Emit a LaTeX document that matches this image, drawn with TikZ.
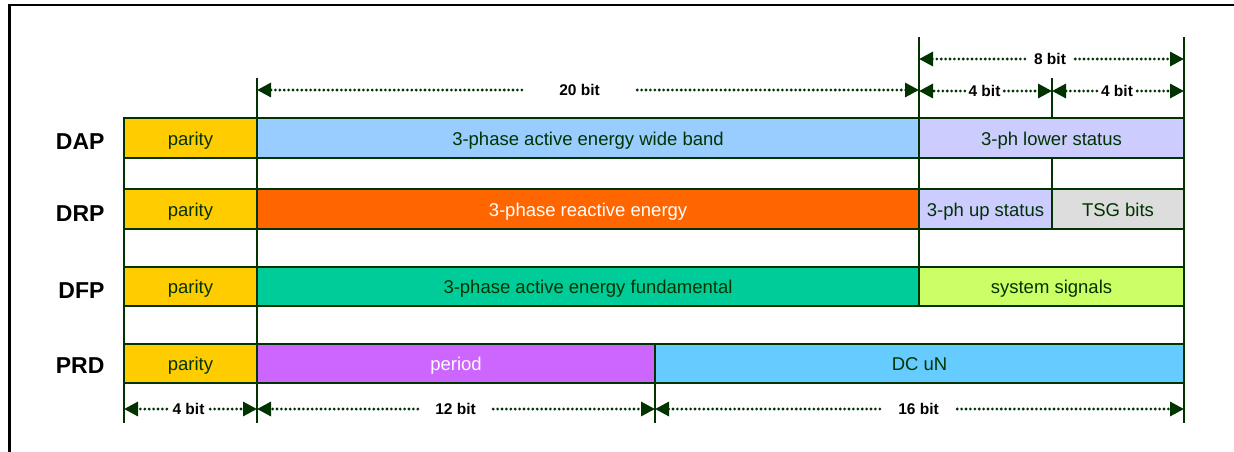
\documentclass[tikz,border=0pt]{standalone}
\usepackage{fontspec}
\setmainfont{Liberation Sans}
\usetikzlibrary{arrows.meta}
\definecolor{dkgreen}{HTML}{003300}
\definecolor{cparity}{HTML}{FFCC00}
\definecolor{cwide}{HTML}{99CCFF}
\definecolor{cstatus}{HTML}{CCCCFF}
\definecolor{creact}{HTML}{FF6600}
\definecolor{ctsg}{HTML}{DDDDDD}
\definecolor{cfund}{HTML}{00CC99}
\definecolor{csys}{HTML}{CCFF66}
\definecolor{cperiod}{HTML}{CC66FF}
\definecolor{cdc}{HTML}{66CCFF}
\tikzset{
  cell/.style={draw=dkgreen, line width=2pt, rectangle, inner sep=0pt, outer sep=0pt,
    text=dkgreen, font=\fontsize{18.5}{20}\selectfont, text height=14.5pt, text depth=0pt},
  blankcell/.style={cell, fill=white},
  rowlab/.style={anchor=east, font=\fontsize{23}{25}\bfseries, text=black},
  bitlab/.style={rectangle, inner sep=0pt, minimum height=14pt, font=\fontsize{15.5}{17}\bfseries, text=black},
  dimline/.style={draw=dkgreen, line width=3.1pt, line cap=round, dash pattern=on 0pt off 4.4pt,
    -{Triangle[length=14pt,width=14pt]}},
  extline/.style={draw=dkgreen, line width=2pt},
  frameline/.style={draw=black, line width=2.6pt}
}
\begin{document}
\begin{tikzpicture}[x=1pt,y=-1pt]
\useasboundingbox (0,0) rectangle (1234,451);
\draw[frameline] (9.5,452) -- (9.5,5) -- (1235,5);

% blank rows
\node[blankcell, minimum width=133pt, minimum height=31pt] (b1a) at (190.5,173.5) {};
\node[blankcell, minimum width=662pt, minimum height=31pt] (b1b) at (588,173.5) {};
\node[blankcell, minimum width=133pt, minimum height=31pt] (b1c) at (985.5,173.5) {};
\node[blankcell, minimum width=132pt, minimum height=31pt] (b1d) at (1118,173.5) {};
\node[blankcell, minimum width=133pt, minimum height=38pt] (b2a) at (190.5,248) {};
\node[blankcell, minimum width=662pt, minimum height=38pt] (b2b) at (588,248) {};
\node[blankcell, minimum width=265pt, minimum height=38pt] (b2c) at (1051.5,248) {};
\node[blankcell, minimum width=133pt, minimum height=38pt] (b3a) at (190.5,325) {};
\node[blankcell, minimum width=927pt, minimum height=38pt] (b3b) at (720.5,325) {};

% DAP
\node[cell, fill=cparity, minimum width=133pt, minimum height=40pt] (dap1) at (190.5,138) {parity};
\node[cell, fill=cwide, minimum width=662pt, minimum height=40pt] (dap2) at (588,138) {3-phase active energy wide band};
\node[cell, fill=cstatus, minimum width=265pt, minimum height=40pt] (dap3) at (1051.5,138) {3-ph lower status};
% DRP
\node[cell, fill=cparity, minimum width=133pt, minimum height=40pt] (drp1) at (190.5,209) {parity};
\node[cell, fill=creact, text=white, minimum width=662pt, minimum height=40pt] (drp2) at (588,209) {3-phase reactive energy};
\node[cell, fill=cstatus, minimum width=133pt, minimum height=40pt] (drp3) at (985.5,209) {3-ph up status};
\node[cell, fill=ctsg, minimum width=132pt, minimum height=40pt] (drp4) at (1118,209) {TSG bits};
% DFP
\node[cell, fill=cparity, minimum width=133pt, minimum height=39pt] (dfp1) at (190.5,286.5) {parity};
\node[cell, fill=cfund, minimum width=662pt, minimum height=39pt] (dfp2) at (588,286.5) {3-phase active energy fundamental};
\node[cell, fill=csys, minimum width=265pt, minimum height=39pt] (dfp3) at (1051.5,286.5) {system signals};
% PRD
\node[cell, fill=cparity, minimum width=133pt, minimum height=39pt] (prd1) at (190.5,363.5) {parity};
\node[cell, fill=cperiod, text=white, minimum width=398pt, minimum height=39pt] (prd2) at (456,363.5) {period};
\node[cell, fill=cdc, minimum width=529pt, minimum height=39pt] (prd3) at (919.5,363.5) {DC uN};

% row labels
\node[rowlab] (ldap) at (108,141.5) {DAP};
\node[rowlab] (ldrp) at (108,214) {DRP};
\node[rowlab] (ldfp) at (108,290.5) {DFP};
\node[rowlab] (lprd) at (108,366) {PRD};

% extension lines top
\draw[extline] (dap2.north west) -- ++(0,-40);
\draw[extline] (dap3.north west) -- ++(0,-81);
\draw[extline] (dap3.north east) -- ++(0,-81);
\draw[extline] (dap3.north) ++(0.5,0) -- ++(0,-40);
% extension lines bottom
\draw[extline] (prd1.south west) -- ++(0,40);
\draw[extline] (prd2.south west) -- ++(0,40);
\draw[extline] (prd3.south west) -- ++(0,40);
\draw[extline] (prd3.south east) -- ++(0,40);

% dimension end points
\coordinate (t20a) at (257,90);
\coordinate (t20b) at (919,90);
\coordinate (t8a) at (919,59);
\coordinate (t8b) at (1184,59);
\coordinate (t4a) at (919,91);
\coordinate (t4b) at (1052,91);
\coordinate (t4c) at (1052,91);
\coordinate (t4d) at (1184,91);
\coordinate (b4a) at (124,409);
\coordinate (b4b) at (257,409);
\coordinate (b12a) at (257,409);
\coordinate (b12b) at (655,409);
\coordinate (b16a) at (655,409);
\coordinate (b16b) at (1184,409);

% dimension labels
\node[bitlab, minimum width=115pt] (l20) at (579.5,90) {20 bit};
\node[bitlab, minimum width=50pt] (l8) at (1050,59) {8 bit};
\node[bitlab, minimum width=39pt] (l4a) at (984.5,91) {4 bit};
\node[bitlab, minimum width=40pt] (l4b) at (1117,91) {4 bit};
\node[bitlab, minimum width=43pt] (lb4) at (188.5,409) {4 bit};
\node[bitlab, minimum width=75pt] (lb12) at (455.5,409) {12 bit};
\node[bitlab, minimum width=77pt] (lb16) at (918.5,409) {16 bit};

% dimension lines
\draw[dimline] (l20) -- (t20a);
\draw[dimline] (l20) -- (t20b);
\draw[dimline] (l8) -- (t8a);
\draw[dimline] (l8) -- (t8b);
\draw[dimline] (l4a) -- (t4a);
\draw[dimline] (l4a) -- (t4b);
\draw[dimline] (l4b) -- (t4c);
\draw[dimline] (l4b) -- (t4d);
\draw[dimline] (lb4) -- (b4a);
\draw[dimline] (lb4) -- (b4b);
\draw[dimline] (lb12) -- (b12a);
\draw[dimline] (lb12) -- (b12b);
\draw[dimline] (lb16) -- (b16a);
\draw[dimline] (lb16) -- (b16b);
\end{tikzpicture}
\end{document}
